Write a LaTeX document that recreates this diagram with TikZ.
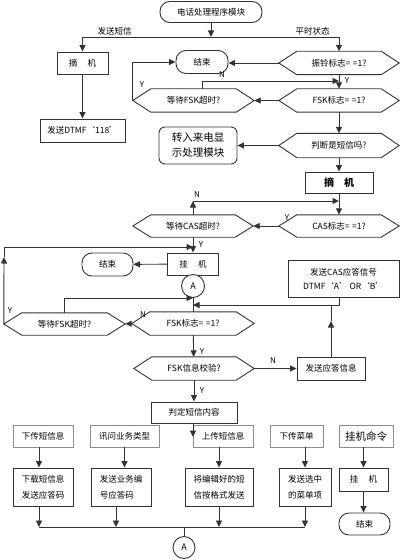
\documentclass[tikz,border=0pt]{standalone}
\usepackage{fontspec}
\setmainfont{Noto Sans CJK SC}
\usetikzlibrary{arrows.meta,calc}
\newcommand{\eqq}{=\hspace{0.3em}=}
\begin{document}
\begin{tikzpicture}[x=1pt,y=-1pt,
  ln/.style={draw=black!80,line width=0.9pt},
  arr/.style={ln,-{Triangle[length=6.5pt,width=6pt]}},
  box/.style={ln,rectangle,fill=white,inner sep=1pt,font=\fontsize{8.5}{12}\selectfont,align=center},
  twoline/.style={box,align=left,font=\fontsize{8.5}{16}\selectfont},
  cat/.style={box,draw=black!45,line width=0.7pt},
  term/.style={box,rounded corners=10pt},
  hexn/.style={rectangle,inner sep=0pt,font=\fontsize{8.5}{12}\selectfont},
  lab/.style={font=\fontsize{8}{9}\selectfont,inner sep=0pt},
  circ/.style={ln,circle,fill=white,inner sep=0pt,font=\fontsize{9}{10}\selectfont}
  ]
\useasboundingbox (0,0) rectangle (400,559);

% ---------- nodes ----------
\node[term,minimum width=102pt,minimum height=21pt] (start) at (211,12) {电话处理程序模块};
\node[box,minimum width=51pt,minimum height=22pt] (hook1) at (82.5,63) {摘\hspace{1.2em}机};
\node[box,minimum width=85pt,minimum height=23pt] (dtmf) at (82.5,130.5) {发送DTMF‘118’};
\node[hexn,minimum width=120pt,minimum height=23pt] (ring) at (339,63) {振铃标志\eqq 1?};
\node[term,minimum width=52pt,minimum height=23pt] (end1) at (202,62) {结束};
\node[hexn,minimum width=120pt,minimum height=23pt] (fsk1) at (339,100.5) {FSK标志\eqq 1?};
\node[hexn,minimum width=121pt,minimum height=23pt] (wfsk1) at (193.5,100.5) {等待FSK超时?};
\node[hexn,minimum width=120pt,minimum height=24pt] (judge) at (339,145.5) {判断是短信吗?};
\node[box,rounded corners=6pt,minimum width=78pt,minimum height=37pt,font=\fontsize{10.5}{15}\selectfont] (trans) at (198,145.5) {转入来电显\\示处理模块};
\node[box,minimum width=68pt,minimum height=21pt,font=\bfseries\fontsize{10}{12}\selectfont] (hook2) at (339,182.5) {摘\hspace{1em}机};
\node[hexn,minimum width=120pt,minimum height=22pt] (cas) at (339,226) {CAS标志\eqq 1?};
\node[hexn,minimum width=120pt,minimum height=22pt] (wcas) at (193,226) {等待CAS超时?};
\node[box,minimum width=51pt,minimum height=22pt] (hang1) at (193,264) {挂\hspace{1.2em}机};
\node[term,minimum width=51pt,minimum height=23pt] (end2) at (107.5,264.5) {结束};
\node[circ,minimum size=23pt] (A1) at (193,286) {A};
\node[box,minimum width=111pt,minimum height=37pt,font=\fontsize{8.5}{14}\selectfont] (casans) at (343.5,278.5) {发送CAS应答信号\\DTMF‘A’ OR‘B’};
\node[hexn,minimum width=122pt,minimum height=23pt] (fsk2) at (193,323.5) {FSK标志\eqq 1?};
\node[hexn,minimum width=121pt,minimum height=22pt] (wfsk2) at (64.5,324) {等待FSK超时?};
\node[hexn,minimum width=120pt,minimum height=23pt] (chk) at (194,368.5) {FSK信息校验?};
\node[box,minimum width=68pt,minimum height=23pt] (ans) at (331,368.5) {发送应答信息};
\node[box,minimum width=86pt,minimum height=21pt] (dec) at (194,412.5) {判定短信内容};

\node[cat,minimum width=60pt,minimum height=22pt] (c1) at (43,436) {下传短信息};
\node[cat,minimum width=69pt,minimum height=22pt] (c2) at (124.5,436) {讯问业务类型};
\node[cat,minimum width=60pt,minimum height=22pt] (c3) at (223,436) {上传短信息};
\node[cat,minimum width=53pt,minimum height=22pt] (c4) at (296.5,436) {下传菜单};
\node[cat,minimum width=54pt,minimum height=22pt,font=\fontsize{10.5}{12}\selectfont] (c5) at (366,436) {挂机命令};

\node[twoline,minimum width=60pt,minimum height=38pt] (b1) at (43,487) {下载短信息\\发送应答码};
\node[twoline,minimum width=60pt,minimum height=38pt] (b2) at (121,487) {发送业务编\\号应答码};
\node[twoline,minimum width=68pt,minimum height=38pt] (b3) at (219,487) {将编辑好的短\\信按格式发送};
\node[twoline,minimum width=52pt,minimum height=38pt] (b4) at (305,487) {发送选中\\的菜单项};
\node[box,minimum width=49pt,minimum height=23pt] (b5) at (363.5,479.5) {挂\hspace{1.2em}机};
\node[term,minimum width=51pt,minimum height=22pt] (end3) at (364.5,524) {结束};
\node[circ,minimum size=22pt] (A2) at (184,547.5) {A};

% ---------- hexagon outlines ----------
\foreach \n in {ring,fsk1,wfsk1,judge,cas,wcas,fsk2,wfsk2,chk}
  \draw[ln] (\n.west) -- ([xshift=18pt]\n.north west) -- ([xshift=-18pt]\n.north east)
    -- (\n.east) -- ([xshift=-18pt]\n.south east) -- ([xshift=18pt]\n.south west) -- cycle;

% ---------- connectors ----------
\coordinate (jt) at (211,37);
\draw[arr] (start) -- (jt);
\draw[arr] (jt) -| (hook1);
\draw[arr] (jt) -| (ring);
\node[lab,font=\fontsize{8.5}{9}\selectfont] at (114.5,31) {发送短信};
\node[lab,font=\fontsize{8.5}{9}\selectfont] at (312.5,31) {平时状态};

\draw[arr] (hook1) -- (dtmf);
\draw[arr] (ring.west) -- (ring.west -| end1.east);
\draw[arr] (ring) -- (fsk1);
\node[lab] at (347,81) {Y};
\coordinate (jn1) at (339,81);
\draw[arr] ([xshift=9pt]wfsk1.north) |- (jn1);
\node[lab] at (222,75) {N};
\draw[arr] (fsk1) -- (wfsk1);
\draw[arr] (wfsk1.west) |- (end1.west);
\node[lab] at (142,85) {Y};
\draw[arr] (fsk1) -- (judge);
\draw[arr] (judge) -- (trans);
\draw[arr] (judge) -- (hook2);
\draw[arr] (hook2) -- (cas);
\draw[arr] (cas) -- (wcas);
\node[lab] at (287,218) {Y};
\coordinate (jn2) at (193,201);
\coordinate (jn3) at (339,201);
\draw[arr] (wcas.north) -- (jn2);
\draw[arr] (jn2) -- (jn3);
\node[lab] at (197,195) {N};
\draw[arr] (wcas) -- (hang1);
\node[lab] at (201,245) {Y};
\coordinate (jy) at (193,247);
\coordinate (ly) at (4,257);
\draw[arr] (wfsk2.west) -- (ly);
\draw[arr] (ly) |- (jy);
\node[lab] at (10,311) {Y};
\draw[arr] (hang1) -- (end2);
\draw[ln] (A1) -- (fsk2);
\coordinate (jl) at (193,298);
\coordinate (jr) at (193,305);
\draw[arr] (wfsk2.north) |- (jl);
\draw[arr] (casans.south -| cas.south) |- (jr);
\coordinate (ju) at (331,321);
\draw[arr] (ans) -- (ju);
\draw[ln] (ju) -- (ans.north |- jr);
\draw[arr] (fsk2) -- (wfsk2);
\node[lab] at (143,315) {N};
\draw[arr] (fsk2) -- (chk);
\node[lab] at (202,352) {Y};
\draw[arr] (chk) -- (ans);
\node[lab] at (273,361) {N};
\draw[arr] (chk) -- (dec);
\node[lab] at (202,391) {Y};
\coordinate (jd) at (193,437);
\draw[arr] (dec.south -| jd) -- (jd);

\draw[arr] ([xshift=-4pt]c1.south) -- ([xshift=-4pt]b1.north);
\draw[arr] (c2.south) -- (c2.south |- b2.north);
\draw[arr] (c3.south -| b3.north) -- (b3);
\draw[arr] (c4.south -| b4.north) -- (b4);
\draw[arr] (c5.south -| b5.north) -- (b5);
\draw[arr] (b5) -- (b5.south |- end3.north);

\coordinate (bA) at (184,527);
\draw[arr] ([xshift=-4pt]b1.south) -- ([xshift=-4pt]b1.south |- bA);
\draw[arr] ([xshift=-5pt]b2.south) -- ([xshift=-5pt]b2.south |- bA);
\draw[arr] (b3.south) -- (b3.south |- bA);
\draw[arr] (b4.south) -- (b4.south |- bA);
\draw[ln] ([xshift=-4pt]b1.south |- bA) -- (b4.south |- bA);
\draw[ln] (bA) -- (A2);
\end{tikzpicture}
\end{document}
